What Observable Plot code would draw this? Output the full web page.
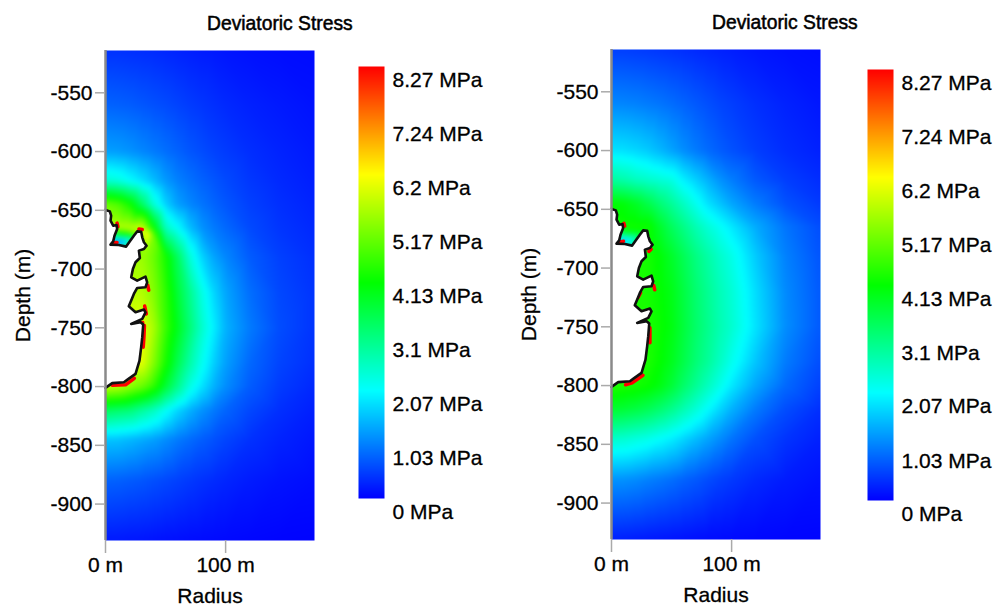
<!DOCTYPE html>
<html><head><meta charset="utf-8">
<script src="https://cdn.jsdelivr.net/npm/d3@7"></script>
<script src="https://cdn.jsdelivr.net/npm/@observablehq/plot@0.6"></script>
<style>
html,body{margin:0;padding:0;background:#fff}
#c{position:relative;width:1001px;height:605px;overflow:hidden;font-family:"Liberation Sans",Arial,sans-serif}
#c svg{position:absolute;top:0;overflow:visible;background:transparent}
#c svg text{stroke:#000;stroke-width:.3px;paint-order:stroke}
.t{position:absolute;font-size:19.3px;color:#000;white-space:nowrap;-webkit-text-stroke:0.5px #000}
</style></head><body><div id="c"></div>
<script>
const title = "Deviatoric Stress";
const radii = [0,10,20,30,40,50,60,70,80,90,100,120,145,174];
const depths = [-514,-560,-600,-625,-645,-665,-690,-720,-750,-780,-800,-820,-845,-880,-931];
const colorStops = [0,2.07,4.13,6.2,8.27];
const colorRange = ["#0000ff","#00ffff","#00ff00","#ffff00","#ff0000"];
const barTicks = [0,1.03,2.07,3.1,4.13,5.17,6.2,7.24,8.27];
const depthTicks = [-550,-600,-650,-700,-750,-800,-850,-900];
const radiusTicks = [0,100];

const stressLeft = [
[.4,.4,.38,.36,.34,.31,.28,.25,.22,.2,.17,.13,.1,.08],
[.8,.78,.75,.7,.65,.6,.54,.48,.43,.38,.33,.26,.2,.14],
[1.3,1.27,1.2,1.1,1,.9,.8,.7,.62,.54,.48,.37,.28,.2],
[2.45,2.35,2.1,1.85,1.55,1.25,1.05,.92,.8,.7,.6,.45,.33,.24],
[5,4.8,4.3,3.4,2.4,1.7,1.3,1.1,.95,.82,.7,.52,.38,.28],
[5.6,5.6,5.6,5.8,4.2,2.6,2.1,1.55,1.2,1,.85,.6,.43,.32],
[5.5,5.5,5.5,5.4,5,4.3,3.4,2.4,1.75,1.35,1.1,.75,.52,.38],
[5.6,5.6,5.6,5.6,5.2,4.5,3.7,3,2.3,1.75,1.35,.9,.58,.42],
[6,6,6,6,5.5,4.6,3.9,3.2,2.5,1.95,1.45,1,.62,.42],
[6,6,6,6,5.2,4.3,3.5,2.8,2.2,1.7,1.3,.85,.55,.38],
[5.7,5.6,5.3,5,4.5,3.7,3,2.3,1.85,1.45,1.15,.75,.48,.32],
[3.4,3.3,3.2,2.9,2.6,2.15,1.75,1.45,1.2,1,.82,.58,.38,.25],
[1.6,1.58,1.5,1.4,1.3,1.15,1,.88,.76,.66,.56,.4,.28,.18],
[.8,.78,.74,.7,.64,.58,.52,.46,.4,.35,.3,.22,.15,.1],
[.2,.2,.18,.17,.15,.13,.12,.1,.09,.08,.07,.05,.03,.02]];

const stressRight = [
[.5,.5,.48,.46,.43,.4,.37,.33,.3,.27,.24,.18,.13,.1],
[1.1,1.08,1.05,1,.95,.88,.8,.72,.64,.56,.5,.38,.27,.18],
[1.85,1.82,1.75,1.65,1.5,1.33,1.15,1,.87,.76,.66,.5,.36,.26],
[2.85,2.75,2.6,2.5,2.4,2.3,1.95,1.7,1.45,1.2,1.02,.72,.5,.36],
[4.13,4.05,3.85,3.55,3.2,2.9,2.55,2.2,1.85,1.6,1.35,1,.66,.46],
[4.25,4.25,4.25,4.25,3.8,3.4,3.05,2.7,2.4,2.15,1.9,1.4,.95,.62],
[4.3,4.3,4.3,4.3,4.1,3.8,3.45,3.1,2.8,2.5,2.25,1.65,1.05,.68],
[4.3,4.3,4.3,4.3,4.15,3.95,3.6,3.25,2.95,2.65,2.4,1.8,1.12,.72],
[4.35,4.35,4.35,4.35,4.2,4,3.65,3.3,3,2.7,2.45,1.85,1.15,.72],
[4.35,4.35,4.35,4.35,4.15,3.9,3.55,3.2,2.9,2.55,2.2,1.6,1,.62],
[4.4,4.35,4.3,4.2,4,3.7,3.3,2.95,2.6,2.25,1.9,1.35,.85,.52],
[3.75,3.7,3.6,3.45,3.25,3,2.7,2.4,2.07,1.75,1.45,1,.62,.38],
[2.5,2.45,2.35,2.25,2.1,1.95,1.75,1.55,1.35,1.15,.95,.65,.42,.26],
[1.2,1.18,1.13,1.05,.98,.9,.8,.72,.62,.53,.46,.33,.22,.14],
[.25,.24,.22,.2,.18,.16,.14,.12,.1,.09,.08,.06,.04,.03]];

// low-stress pocket in the notch at the top of the cavity: [radius, depth, MPa]
const notchLeft = [[8,-677,.9],[12,-677,1],[16,-676,1.3],[20,-674,2.5],[10,-673,2.6],[15,-672,3.4],[7,-671,3],[24,-670,5],[12,-668,4.6],[18,-668,4.9],[35,-671,6.3],[39,-672,5.2]];
const notchRight = [[8,-677,1.4],[12,-677,1.6],[16,-676,2],[20,-674,2.8],[10,-673,2.7],[15,-672,3.2],[7,-671,3.1],[24,-670,3.9],[12,-668,4],[18,-668,4.1]];

const cavityR = [0,3.6,4.7,4.2,6.4,9.2,9.7,7.5,6.4,4.2,11.1,17.2,20.3,23.6,26.4,29.7,30.6,32,34.2,32,27.8,28.6,25,22.8,21.4,26.4,33.3,34.7,33.3,26.4,23.6,21.4,19.4,25,32,33.3,30.6,21.4,29.2,31.4,30.6,29.7,28.3,25,18,15.3,5.6,0];
const cavityZ = [-649.7,-650.9,-654.6,-658.8,-663.1,-662.5,-665.9,-671.6,-676.4,-679.2,-679.5,-680.9,-676.4,-671.6,-667.9,-668.2,-673,-677.2,-680.1,-682.9,-684.3,-690.6,-694.2,-699.9,-707,-709.8,-706.4,-711.3,-715.5,-716.1,-721.2,-726.8,-731.7,-736.8,-734.5,-736.8,-742.4,-746.7,-745.3,-747.2,-758,-766.5,-777.9,-789.2,-794.3,-796.3,-797.1,-801.1];

const redLeft = [
[[32.4,-748.1],[32,-758],[31.4,-766.5]],
[[21.4,-748.2],[31,-745.6]],
[[35.2,-713.8],[36,-718]],
[[5.6,-677.6],[9.6,-677.3]],
[[9.6,-660.9],[10.3,-663.9]],
[[27.8,-666],[30.6,-666.3]],
[[5.6,-798.8],[16.7,-798.5],[24,-793]],
[[32.6,-731.5],[34,-738.2]]];
const redRight = [
[[32,-750.8],[32,-763.6]],
[[22,-748.2],[29.7,-746.5]],
[[35.2,-714.9],[36,-718.5]],
[[7,-677.8],[10,-677.2]],
[[10.3,-662],[11,-664.2]],
[[11.7,-799.3],[17.2,-797.7],[26.2,-791.2]],
[[33,-684],[31.1,-685.8]],
[[22,-725.3],[24.2,-721]]];

const color = {type:"linear",domain:colorStops,range:colorRange,interpolate:"rgb",clamp:true};
const font = {fontFamily:"'Liberation Sans',Arial,sans-serif",fontSize:"21px",color:"#000",background:"transparent",overflow:"visible"};
const cavity = cavityR.map((r,i)=>({r,z:cavityZ[i]}));

function panel(left,top,grid,notch,red){
  const field=[];
  depths.forEach((z,i)=>radii.forEach((r,j)=>{
    field.push({r,z,v:grid[i][j]});
  }));
  notch.forEach(([r,z,v])=>field.push({r,z,v}));
  const reds = red.flatMap((s,k)=>s.map(([r,z])=>({r,z,k})));
  const svg = Plot.plot({
    width:340,height:605,marginLeft:105,marginRight:26,marginTop:top,marginBottom:605-top-490,
    style:font,
    x:{domain:[0,174]},
    y:{domain:[-931,-514]},
    color,
    marks:[
      Plot.raster(field,{x:"r",y:"z",fill:"v",interpolate:"barycentric",pixelSize:1,blur:2}),
      Plot.line(reds,{x:"r",y:"z",z:"k",stroke:"#ff0000",strokeWidth:3.5}),
      Plot.line(cavity,{x:"r",y:"z",fill:"#fff",stroke:"#111",strokeWidth:2.6,fillOpacity:1}),
      Plot.ruleX([0],{stroke:"#8a8a8a",strokeWidth:2.5}),
      Plot.axisY({anchor:"left",ticks:depthTicks,tickFormat:d=>String(d),tickSize:10,tickPadding:3,stroke:"#aaa",fill:"#000",strokeWidth:1.5,
        label:"Depth (m)",labelAnchor:"center",labelArrow:"none",labelOffset:90}),
      Plot.axisX({anchor:"bottom",ticks:radiusTicks,tickFormat:d=>d+" m",tickSize:13,tickPadding:4,stroke:"#aaa",fill:"#000",strokeWidth:1.5,
        label:"Radius",labelAnchor:"center",labelArrow:"none",labelOffset:62})
    ]
  });
  svg.style.left=left+"px";
  return svg;
}
function bar(left,top,h){
  const svg = Plot.plot({
    width:134,height:605,marginLeft:0,marginRight:108,marginTop:top,marginBottom:605-top-h,
    style:font,
    x:{domain:[0,1],axis:null},
    y:{domain:[0,8.27],axis:null},
    color,
    marks:[
      Plot.raster({x1:0,x2:1,y1:0,y2:8.27,width:1,height:h,fill:(x,y)=>y}),
      Plot.axisY({anchor:"right",ticks:barTicks,tickSize:0,tickPadding:8,dy:14,tickFormat:d=>d+" MPa",label:null,fill:"#000"})
    ]
  });
  svg.style.left=left+"px";
  return svg;
}
const c=document.getElementById("c");
c.append(panel(0,50,stressLeft,notchLeft,redLeft));
c.append(panel(506,49,stressRight,notchRight,redRight));
c.append(bar(358,66,432));
c.append(bar(867,69,431));
[[207,13],[712,12]].forEach(([x,y])=>{const d=document.createElement("div");d.className="t";d.style.left=x+"px";d.style.top=y+"px";d.textContent=title;c.append(d);});
</script></body></html>
